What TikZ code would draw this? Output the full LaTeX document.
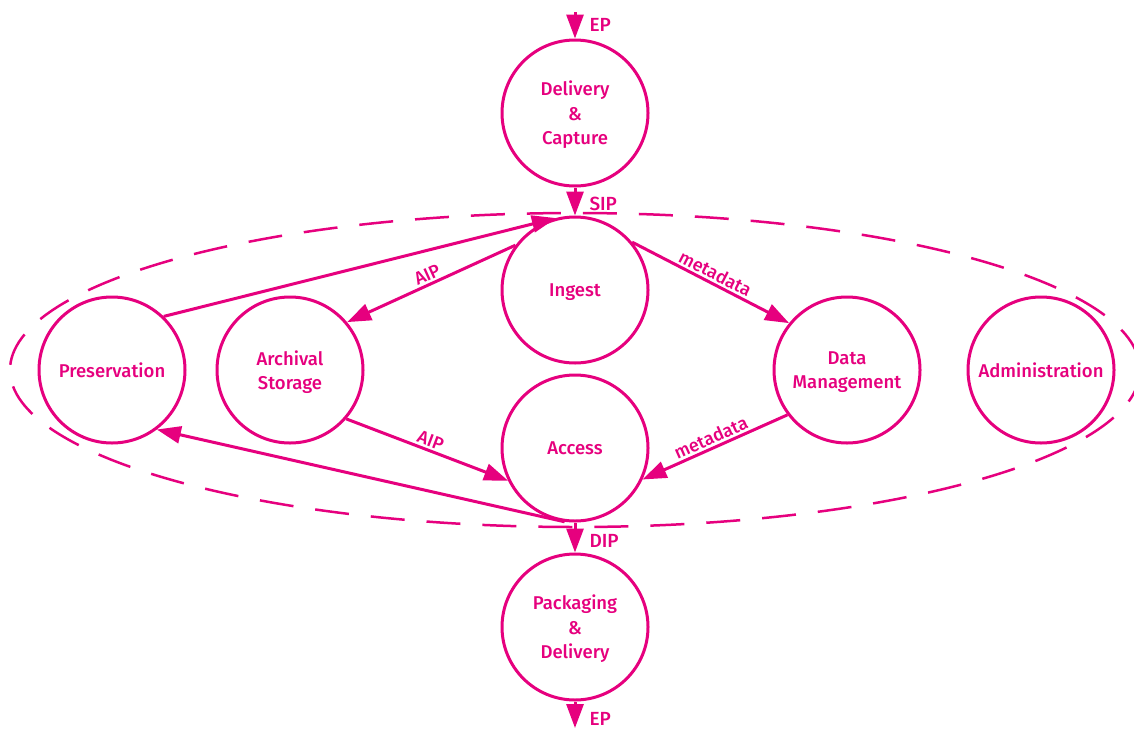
\documentclass[tikz,border=0pt]{standalone}
\usepackage{fontspec}
\setmainfont{Fira Sans}[UprightFont=* Medium]
\usetikzlibrary{arrows.meta}
\definecolor{mag}{HTML}{E6007E}
\begin{document}
\begin{tikzpicture}[x=1pt,y=-1pt,
  proc/.style={circle, draw=mag, line width=3pt, minimum size=146pt, inner sep=0pt,
    align=center, text=mag, text depth=0pt, font=\fontsize{18.5}{24.5}\selectfont},
  flow/.style={draw=mag, line width=3pt, -{Triangle[length=24pt,width=17pt]}},
  lab/.style={text=mag, font=\fontsize{19}{20}\selectfont, inner sep=1pt},
  slab/.style={text=mag, font=\fontsize{18}{18}\selectfont, sloped, above, inner sep=2pt},
  bound/.style={draw=mag, line width=2.5pt, dash pattern=on 34pt off 22pt}
]
\clip (0,0) rectangle (1134,728);
\fill[white] (0,0) rectangle (1134,728);
\draw[bound] (575,370) ellipse [x radius=565, y radius=157];

\node[proc] (dc) at (575,113) {Delivery\\\&\\Capture};
\node[proc] (ing) at (575,290) {Ingest};
\node[proc] (acc) at (575,448) {Access};
\node[proc] (pd) at (575,627) {Packaging\\\&\\Delivery};
\node[proc] (pres) at (112,370) {Preservation};
\node[proc] (as) at (290,370) {Archival\\Storage};
\node[proc] (dm) at (847,370) {Data\\Management};
\node[proc] (adm) at (1041,370) {Administration};

\coordinate (epin) at (575,12);
\coordinate (epout) at (575,728);

\draw[flow] (epin) -- (dc.north) node[lab, anchor=west, pos=0.5, xshift=12pt] {EP};
\draw[flow] (dc.south) -- (ing.north) node[lab, anchor=west, pos=0.6, xshift=12pt] {SIP};
\draw[flow] (acc.south) -- (pd.north) node[lab, anchor=west, pos=0.6, xshift=12pt] {DIP};
\draw[flow] (pd.south) -- (epout) node[lab, anchor=west, pos=0.65, xshift=12pt] {EP};

\draw[flow, shorten >=5pt] (pres.46) -- (ing.101);
\draw[flow] (acc.-98) -- (pres.-53);
\draw[flow] (ing.143) -- node[slab] {AIP} (as.40);
\draw[flow] (ing.40) -- node[slab] {metadata} (dm.141);
\draw[flow] (as.-41) -- node[slab] {AIP} (acc.-154);
\draw[flow] (dm.-143) -- node[slab] {metadata} (acc.-25);
\end{tikzpicture}
\end{document}
